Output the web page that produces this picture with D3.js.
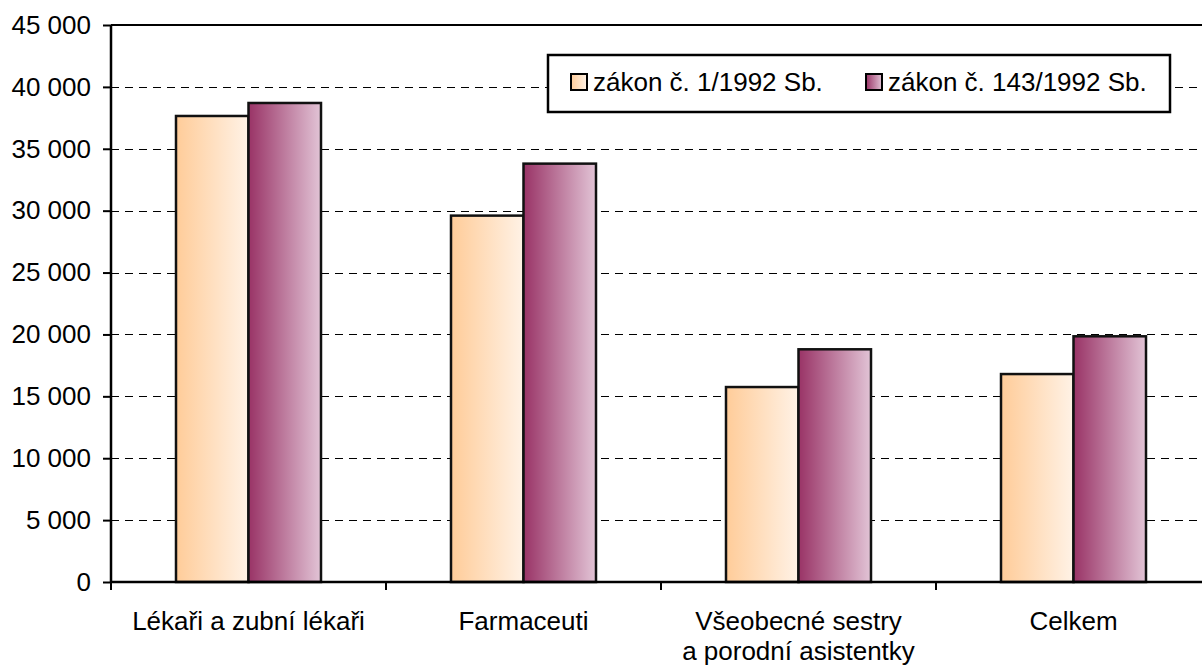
<!DOCTYPE html>
<html>
<head>
<meta charset="utf-8">
<script src="https://cdn.jsdelivr.net/npm/d3@7"></script>
<style>
body { margin: 0; background: #fff; }
svg { display: block; font-family: "Liberation Sans", Arial, sans-serif; }
</style>
</head>
<body>
<svg id="chart" width="1202" height="666"></svg>
<script>
var categories = [["Lékaři a zubní lékaři"], ["Farmaceuti"], ["Všeobecné sestry", "a porodní asistentky"], ["Celkem"]];
var seriesNames = ["zákon č. 1/1992 Sb.", "zákon č. 143/1992 Sb."];
var law1 = [37650, 29600, 15750, 16800];
var law143 = [38700, 33800, 18800, 19850];
var yTicks = [0, 5000, 10000, 15000, 20000, 25000, 30000, 35000, 40000, 45000];

var svg = d3.select("#chart");
var plotLeft = 111, plotTop = 25, plotBottom = 582, plotRight = 1211;
var fontSize = 26;

var x = d3.scaleBand()
  .domain(d3.range(categories.length))
  .range([plotLeft, plotRight]);
var y = d3.scaleLinear()
  .domain([0, 45000])
  .range([plotBottom, plotTop]);

// gradients
var defs = svg.append("defs");
var grads = [["g1", "#ffcc99", "#fff2e6"], ["g2", "#993366", "#e2c4d6"]];
grads.forEach(function(g) {
  var lg = defs.append("linearGradient").attr("id", g[0])
    .attr("x1", "0").attr("x2", "1").attr("y1", "0").attr("y2", "0");
  lg.append("stop").attr("offset", "0").attr("stop-color", g[1]);
  lg.append("stop").attr("offset", "1").attr("stop-color", g[2]);
});

// grid lines
svg.append("g").selectAll("line")
  .data(yTicks.filter(function(d) { return d > 0 && d < 45000; }))
  .enter().append("line")
  .attr("x1", plotLeft).attr("x2", 1202)
  .attr("y1", function(d) { return Math.round(y(d)) + 0.5; })
  .attr("y2", function(d) { return Math.round(y(d)) + 0.5; })
  .attr("stroke", "#000")
  .attr("stroke-width", 1)
  .attr("stroke-dasharray", "8,6");

svg.append("line")
  .attr("x1", plotLeft).attr("x2", 1202)
  .attr("y1", y(45000)).attr("y2", y(45000))
  .attr("stroke", "#000").attr("stroke-width", 2);

// bars
var groupGap = 65, barW = (x.bandwidth() - 2 * groupGap) / 2;
var series = [law1, law143];
series.forEach(function(vals, si) {
  svg.append("g").selectAll("rect")
    .data(vals)
    .enter().append("rect")
    .attr("x", function(d, i) { return x(i) + groupGap + si * barW; })
    .attr("y", function(d) { return y(d); })
    .attr("width", barW)
    .attr("height", function(d) { return y(0) - y(d); })
    .attr("fill", "url(#g" + (si + 1) + ")")
    .attr("stroke", "#111")
    .attr("stroke-width", 2.5);
});

// y axis
var yAxis = d3.axisLeft(y)
  .tickValues(yTicks)
  .tickSize(8)
  .tickPadding(12)
  .tickFormat(function(d) { return d3.format(",")(d).replace(/,/g, " "); });
var ya = svg.append("g")
  .attr("transform", "translate(" + plotLeft + ",0)")
  .call(yAxis);
ya.select(".domain").attr("stroke-width", 2.5).attr("d", "M0," + plotBottom + "V" + plotTop);
ya.selectAll(".tick line").attr("stroke-width", 2);
ya.selectAll("text").attr("font-size", fontSize).attr("fill", "#000")
  .attr("font-family", "Liberation Sans, Arial, sans-serif");

// x axis
var xTickPos = d3.range(categories.length + 1).map(function(i) { return plotLeft + i * x.step(); });
svg.append("line")
  .attr("x1", plotLeft).attr("x2", 1202)
  .attr("y1", plotBottom).attr("y2", plotBottom)
  .attr("stroke", "#000").attr("stroke-width", 2.5);
svg.append("g").selectAll("line")
  .data(xTickPos)
  .enter().append("line")
  .attr("x1", function(d) { return d; })
  .attr("x2", function(d) { return d; })
  .attr("y1", plotBottom).attr("y2", plotBottom + 8)
  .attr("stroke", "#000").attr("stroke-width", 2);

var labels = svg.append("g").selectAll("text")
  .data(categories)
  .enter().append("text")
  .attr("x", function(d, i) { return x(i) + x.bandwidth() / 2; })
  .attr("y", 630)
  .attr("text-anchor", "middle")
  .attr("font-size", fontSize)
  .attr("fill", "#000");
labels.selectAll("tspan")
  .data(function(d) { return d; })
  .enter().append("tspan")
  .attr("x", function() { return d3.select(this.parentNode).attr("x"); })
  .attr("dy", function(d, i) { return i === 0 ? 0 : 30; })
  .text(function(d) { return d; });

// legend
var legend = svg.append("g");
legend.append("rect")
  .attr("x", 548).attr("y", 55).attr("width", 622).attr("height", 57)
  .attr("fill", "#fff").attr("stroke", "#000").attr("stroke-width", 2.5);
var legX = [571, 866];
seriesNames.forEach(function(name, i) {
  legend.append("rect")
    .attr("x", legX[i]).attr("y", 74).attr("width", 16).attr("height", 16)
    .attr("fill", "url(#g" + (i + 1) + ")")
    .attr("stroke", "#000").attr("stroke-width", 2);
  legend.append("text")
    .attr("x", legX[i] + 22).attr("y", 91)
    .attr("font-size", fontSize).attr("fill", "#000")
    .text(name);
});
</script>
</body>
</html>
